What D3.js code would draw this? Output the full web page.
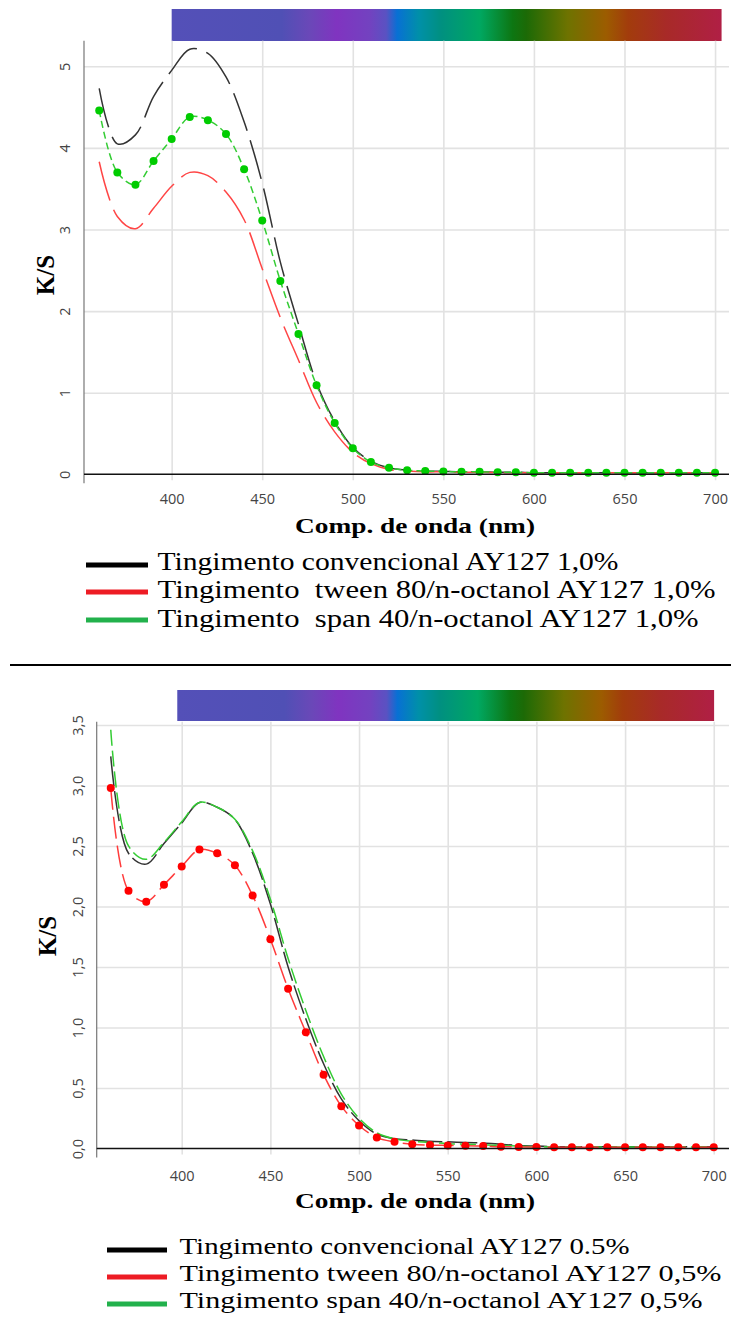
<!DOCTYPE html>
<html><head><meta charset="utf-8">
<script src="https://cdn.jsdelivr.net/npm/d3@7"></script>
<style>body{margin:0;background:#fff} svg{display:block}</style>
</head><body>
<svg id="c" width="731" height="1342"></svg>
<script>
// ---------------- DATA ----------------
const wavelengths = [360,370,380,390,400,410,420,430,440,450,460,470,480,490,500,510,520,530,540,550,560,570,580,590,600,610,620,630,640,650,660,670,680,690,700];

// Panel 1 (1,0%)
const topConv  = [4.73,4.05,4.16,4.63,4.95,5.21,5.16,4.87,4.32,3.57,2.60,1.84,1.12,0.65,0.33,0.16,0.08,0.05,0.04,0.035,0.03,0.03,0.025,0.025,0.02,0.02,0.02,0.02,0.02,0.02,0.02,0.02,0.02,0.02,0.02];
const topTween = [3.83,3.16,3.01,3.26,3.53,3.70,3.66,3.46,3.12,2.52,1.92,1.40,0.88,0.52,0.27,0.13,0.06,0.04,0.03,0.03,0.025,0.025,0.02,0.02,0.02,0.02,0.02,0.02,0.02,0.02,0.02,0.02,0.02,0.02,0.02];
const topSpan  = [4.46,3.70,3.55,3.84,4.11,4.38,4.34,4.17,3.74,3.11,2.37,1.72,1.09,0.63,0.32,0.15,0.08,0.05,0.04,0.035,0.03,0.03,0.025,0.025,0.02,0.02,0.02,0.02,0.02,0.02,0.02,0.02,0.02,0.02,0.02];

// Panel 2 (0,5%)
const botConv  = [3.24,2.44,2.35,2.52,2.69,2.86,2.82,2.72,2.44,2.02,1.50,1.07,0.70,0.41,0.23,0.12,0.08,0.07,0.06,0.055,0.05,0.045,0.035,0.025,0.02,0.015,0.015,0.015,0.015,0.015,0.015,0.015,0.015,0.015,0.015];
const botTween = [2.98,2.13,2.04,2.18,2.33,2.47,2.44,2.34,2.09,1.73,1.32,0.96,0.61,0.35,0.19,0.09,0.055,0.035,0.028,0.025,0.022,0.02,0.015,0.013,0.012,0.01,0.01,0.01,0.01,0.01,0.01,0.01,0.01,0.01,0.01];
const botSpan  = [3.46,2.50,2.39,2.53,2.70,2.86,2.82,2.72,2.46,2.06,1.57,1.14,0.76,0.45,0.25,0.13,0.08,0.06,0.05,0.04,0.035,0.03,0.025,0.02,0.015,0.012,0.012,0.012,0.012,0.012,0.012,0.012,0.012,0.012,0.012];

const xTicks = [400,450,500,550,600,650,700];
const topYTicks = [0,1,2,3,4,5];
const topYLabels = ["0","1","2","3","4","5"];
const botYTicks = [0,0.5,1,1.5,2,2.5,3,3.5];
const botYLabels = ["0,0","0,5","1,0","1,5","2,0","2,5","3,0","3,5"];

const topLegend = ["Tingimento convencional AY127 1,0%","Tingimento  tween 80/n-octanol AY127 1,0%","Tingimento  span 40/n-octanol AY127 1,0%"];
const botLegend = ["Tingimento convencional AY127 0.5%","Tingimento tween 80/n-octanol AY127 0,5%","Tingimento span 40/n-octanol AY127 0,5%"];

const xTitle = "Comp. de onda (nm)";
const yTitle = "K/S";

// spectrum colour bar
const spectrumStops = [0,0.2,0.25,0.30,0.36,0.39,0.41,0.45,0.49,0.56,0.62,0.645,0.72,0.79,0.83,0.9,1];
const spectrumColors = ["#5450b8","#5050b5","#6a48b8","#8034c0","#7342c0","#5a52c2","#0870d4","#0090a8","#009080","#00a862","#0d7612","#1c6a06","#6e7300","#9c5c00","#a23c0c","#a82a28","#b01f45"];

// ---------------- DRAW ----------------
const svg = d3.select("#c");
const defs = svg.append("defs");
const grad = defs.append("linearGradient").attr("id","spec").attr("x1","0").attr("x2","1").attr("y1","0").attr("y2","0");
spectrumStops.forEach((o,i)=>grad.append("stop").attr("offset",o).attr("stop-color",spectrumColors[i]));

const serif = "'Liberation Serif','Times New Roman',serif";
const sans = "'Open Sans','DejaVu Sans',sans-serif";

function panel(cfg){
  const g = svg.append("g");
  const x = d3.scaleLinear().domain(cfg.xDomain).range([cfg.left, cfg.right]);
  const y = d3.scaleLinear().domain([0, cfg.yMax]).range([cfg.bottom, cfg.top]);

  // spectrum bar
  g.append("rect").attr("x", x(cfg.barFrom)).attr("width", x(cfg.barTo)-x(cfg.barFrom))
    .attr("y", cfg.barTop).attr("height", cfg.barH).attr("fill","url(#spec)");

  // vertical grid
  const vg = g.append("g").attr("transform",`translate(0,${cfg.bottom+6})`)
    .call(d3.axisBottom(x).tickValues(xTicks).tickSize(-(cfg.bottom+6-cfg.top)).tickFormat(""));
  vg.select(".domain").remove();
  vg.selectAll("line").attr("stroke","#e2e2e2").attr("stroke-width",1.6);

  // horizontal grid
  const hg = g.append("g").attr("transform",`translate(${cfg.left},0)`)
    .call(d3.axisLeft(y).tickValues(cfg.yTicks.filter(d=>d>0)).tickSize(-(cfg.right-cfg.left)).tickFormat(""));
  hg.select(".domain").remove();
  hg.selectAll("line").attr("stroke","#e2e2e2").attr("stroke-width",1.6);

  // series
  const line = d3.line().x((d,i)=>x(wavelengths[i])).y(d=>y(d)).curve(d3.curveCatmullRom.alpha(0.5));
  cfg.series.forEach(s=>{
    g.append("path").datum(s.values).attr("d",line).attr("fill","none")
      .attr("stroke",s.color).attr("stroke-width",1.5).attr("stroke-dasharray",s.dash);
    if(s.dots){
      g.append("g").selectAll("circle").data(s.values).join("circle")
        .attr("cx",(d,i)=>x(wavelengths[i])).attr("cy",d=>y(d)).attr("r",4).attr("fill",s.dots);
    }
  });

  // left axis line
  g.append("line").attr("x1",cfg.left).attr("x2",cfg.left).attr("y1",cfg.top).attr("y2",cfg.bottom+9)
    .attr("stroke","#777").attr("stroke-width",1.2);
  // baseline
  g.append("line").attr("x1",cfg.left).attr("x2",cfg.right).attr("y1",y(0)).attr("y2",y(0))
    .attr("stroke","#111").attr("stroke-width",1.4);

  // x tick labels
  const xa = g.append("g").attr("transform",`translate(0,${cfg.bottom})`)
    .call(d3.axisBottom(x).tickValues(xTicks).tickSize(0).tickPadding(cfg.xPad).tickFormat(d3.format("d")));
  xa.select(".domain").remove();
  xa.selectAll("text").attr("font-family",sans).attr("font-size",14.5).attr("fill","#444");

  // y tick labels (rotated)
  const ya = g.append("g").attr("transform",`translate(${cfg.left},0)`)
    .call(d3.axisLeft(y).tickValues(cfg.yTicks).tickSize(0).tickFormat((d,i)=>cfg.yLabels[i]));
  ya.select(".domain").remove();
  ya.selectAll("text").attr("transform","rotate(-90)").attr("x",0).attr("y",-14).attr("dy",0)
    .attr("text-anchor","middle").attr("font-family",sans).attr("font-size",14.5).attr("fill","#444");

  // axis titles
  g.append("text").attr("x",cfg.xTitleX).attr("y",cfg.xTitleY).attr("font-family",serif).attr("font-weight","bold")
    .attr("font-size",22).attr("textLength",240).attr("lengthAdjust","spacingAndGlyphs").text(xTitle);
  g.append("text").attr("transform",`translate(${cfg.yTitleX},${cfg.yTitleY}) rotate(-90)`).attr("text-anchor","middle")
    .attr("font-family",serif).attr("font-weight","bold").attr("font-size",25).text(yTitle);

  // legend
  const legColors = ["#000","#ed1c24","#22b14c"];
  cfg.legend.forEach((t,i)=>{
    g.append("line").attr("x1",cfg.legSwX[0]).attr("x2",cfg.legSwX[1]).attr("y1",cfg.legSwY[i]).attr("y2",cfg.legSwY[i])
      .attr("stroke",legColors[i]).attr("stroke-width",5);
    g.append("text").attr("x",cfg.legTextX).attr("y",cfg.legBase[i]).attr("font-family",serif)
      .attr("font-size",cfg.legFont).attr("textLength",cfg.legLen[i]).attr("lengthAdjust","spacingAndGlyphs")
      .attr("xml:space","preserve").style("white-space","pre").text(t);
  });
}

panel({
  left:84, right:729, top:40.7, bottom:474.3,
  xDomain:[351.6,707.7], yMax:5.314, yTicks:topYTicks, yLabels:topYLabels,
  barFrom:400, barTo:703.6, barTop:9, barH:32,
  xPad:19, xTitleX:295, xTitleY:533, yTitleX:54, yTitleY:275,
  series:[
    {values:topConv, color:"#333", dash:"40,10"},
    {values:topTween, color:"#ff4545", dash:"40,10"},
    {values:topSpan, color:"#33cc33", dash:"7,4", dots:"#00cc00"}
  ],
  legend:topLegend, legSwX:[86,148], legSwY:[565,592,620], legTextX:157.5, legBase:[570,598,626.5],
  legFont:25, legLen:[461,558,541]
});

panel({
  left:96.7, right:729, top:721.7, bottom:1148.5,
  xDomain:[352.07,708.6], yMax:3.527, yTicks:botYTicks, yLabels:botYLabels,
  barFrom:397.5, barTo:700.2, barTop:690, barH:31,
  xPad:22, xTitleX:295, xTitleY:1208, yTitleX:56, yTitleY:936,
  series:[
    {values:botConv, color:"#333", dash:"30,5"},
    {values:botSpan, color:"#33cc33", dash:"16,5"},
    {values:botTween, color:"#ff3b3b", dash:"22,7", dots:"#ff0000"}
  ],
  legend:botLegend, legSwX:[107,167], legSwY:[1250,1277,1304], legTextX:179.5, legBase:[1254,1281,1308],
  legFont:24, legLen:[450,542,523]
});

// separator between panels
svg.append("line").attr("x1",10).attr("x2",731).attr("y1",665).attr("y2",665).attr("stroke","#000").attr("stroke-width",2);
</script>
</body></html>
